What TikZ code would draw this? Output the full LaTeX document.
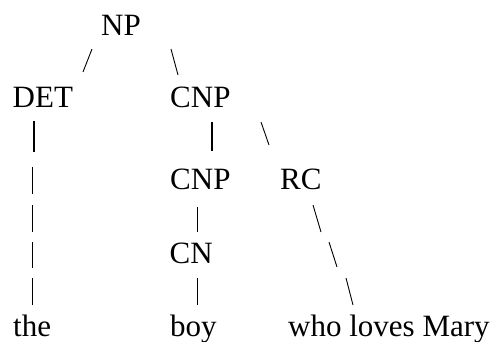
\documentclass[tikz,border=0pt]{standalone}
\usepackage{fontspec}
\setmainfont{Liberation Serif}
\begin{document}
\begin{tikzpicture}[x=1pt,y=-1pt,
  lbl/.style={anchor=base west,inner sep=0pt,font=\fontsize{31}{31}\selectfont},
  thinbar/.style={line width=0.9pt},
  boldbar/.style={line width=2.4pt}]
\useasboundingbox (0,0) rectangle (495,341);
% labels
\node[lbl] (NP)   at (101,35)  {NP};
\node[lbl] (DET)  at (12.5,107) {DET};
\node[lbl] (CNPa) at (170,107) {CNP};
\node[lbl] (CNPb) at (170,189) {CNP};
\node[lbl] (RC)   at (280,189) {RC};
\node[lbl] (CN)   at (169.5,263) {CN};
\node[lbl] (the)  at (13,336)  {the};
\node[lbl] (boy)  at (170,336) {boy};
\node[lbl] (who)  at (288,336) {who loves Mary};
% NP branches
\draw[thinbar] (92,49) -- (83,72);
\draw[thinbar] (171,49) -- (178,75);
% DET -> the
\draw[boldbar] (34,121) -- (34,152);
\foreach \a/\b in {167/194,205/232,242/268,278/305}
  \draw[thinbar] (32,\a) -- (32,\b);
% CNP -> CNP -> CN -> boy
\draw[boldbar] (212,122) -- (212,151);
\draw[thinbar] (197.5,207) -- (197.5,232);
\draw[thinbar] (197.5,278) -- (197.5,305);
% CNP -> RC -> who loves Mary
\draw[thinbar] (261,122) -- (269,145);
\draw[thinbar] (313,205) -- (321,232);
\draw[thinbar] (329,242) -- (337,267);
\draw[thinbar] (346,278) -- (353,305);
\end{tikzpicture}
\end{document}
